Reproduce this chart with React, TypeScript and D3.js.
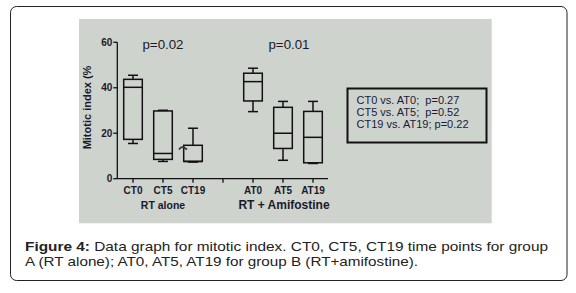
import React from "react";
import * as d3 from "d3";

const categories = ["CT0", "CT5", "CT19", "AT0", "AT5", "AT19"];
const positions = [0, 1, 2, 4, 5, 6];
const mins = [15.5, 7.6, 7.3, 29.5, 8.1, 6.7];
const q1s = [17.3, 8.5, 7.6, 34.2, 13.3, 7.0];
const medians = [40.2, 11.1, 7.6, 42.7, 20.0, 18.2];
const q3s = [43.7, 29.8, 14.7, 46.4, 31.4, 29.6];
const maxs = [45.5, 30.1, 22.2, 48.6, 34.0, 34.0];
const yTicks = [0, 20, 40, 60];
const groupLabels = ["RT alone", "RT + Amifostine"];
const groupCenters = [1, 5];
const pLabels = ["p=0.02", "p=0.01"];
const legendLines = ["CT0 vs. AT0;  p=0.27", "CT5 vs. AT5;  p=0.52", "CT19 vs. AT19; p=0.22"];

export default function App() {
  const y = d3.scaleLinear().domain([0, 60]).range([178.7, 42.3]);
  const x = d3.scaleLinear().domain([0, 6]).range([133, 313]);
  const axisX0 = 117.3;
  const axisX1 = 328;
  const hw = 9.3;
  const cw = 5;
  const ink = "#111";
  const font = "Arial, 'Liberation Sans', sans-serif";

  return (
    <svg width={576} height={293} style={{ position: "absolute", left: 0, top: 0, background: "#fff" }}>
      <rect x={10.5} y={6.5} width={556.5} height={274} rx={6} fill="#fff" stroke="#222" strokeWidth={1} />
      <rect x={79} y={19} width={412.7} height={204.3} fill="#ced3ce" />

      {/* y axis */}
      <line x1={axisX0} x2={axisX0} y1={y(60)} y2={y(0)} stroke={ink} strokeWidth={1.3} />
      {yTicks.map((t) => (
        <g key={t}>
          <line x1={axisX0 - 4} x2={axisX0} y1={y(t)} y2={y(t)} stroke={ink} strokeWidth={1.3} />
          <text x={axisX0 - 5} y={y(t)} dy="0.35em" textAnchor="end" fontFamily={font} fontWeight="bold" fontSize={10} fill="#1a1a2a">
            {t}
          </text>
        </g>
      ))}
      <text
        transform={`translate(91,107.5) rotate(-90)`}
        textAnchor="middle"
        fontFamily={font}
        fontWeight="bold"
        fontSize={11}
        fill="#1a1a2a"
      >
        Mitotic index (%
      </text>

      {/* x axis */}
      <line x1={axisX0} x2={axisX1} y1={y(0)} y2={y(0)} stroke={ink} strokeWidth={1.3} />
      {[...positions, 3].map((p) => (
        <line key={"t" + p} x1={x(p)} x2={x(p)} y1={y(0)} y2={y(0) + 4} stroke={ink} strokeWidth={1.3} />
      ))}
      {categories.map((c, i) => (
        <text key={c} x={x(positions[i])} y={193.5} textAnchor="middle" fontFamily={font} fontWeight="bold" fontSize={10} fill="#1a1a2a">
          {c}
        </text>
      ))}
      <text x={x(groupCenters[0])} y={209} textAnchor="middle" fontFamily={font} fontWeight="bold" fontSize={10.5} fill="#1a1a2a">
        {groupLabels[0]}
      </text>
      <text x={x(groupCenters[1]) + 1} y={209} textAnchor="middle" fontFamily={font} fontWeight="bold" fontSize={12} fill="#1a1a2a">
        {groupLabels[1]}
      </text>

      {/* p labels */}
      {pLabels.map((p, i) => (
        <text key={p} x={x(groupCenters[i]) + (i === 0 ? 0 : 6)} y={49} textAnchor="middle" fontFamily={font} fontSize={13.3} fill="#1a1a2a">
          {p}
        </text>
      ))}

      {/* boxes */}
      {categories.map((c, i) => {
        const cx = x(positions[i]);
        return (
          <g key={"b" + c} stroke={ink} strokeWidth={1.5} fill="none">
            <line x1={cx} x2={cx} y1={y(maxs[i])} y2={y(q3s[i])} />
            <line x1={cx} x2={cx} y1={y(q1s[i])} y2={y(mins[i])} />
            <line x1={cx - cw} x2={cx + cw} y1={y(maxs[i])} y2={y(maxs[i])} />
            <line x1={cx - cw} x2={cx + cw} y1={y(mins[i])} y2={y(mins[i])} />
            <rect x={cx - hw} y={y(q3s[i])} width={2 * hw} height={y(q1s[i]) - y(q3s[i])} />
            <line x1={cx - hw} x2={cx + hw} y1={y(medians[i])} y2={y(medians[i])} />
          </g>
        );
      })}
      {/* small stray mark near CT19 */}
      <path d="M179,149.5 Q181,146 184,147.5 L187,149.5" stroke="#333" strokeWidth={1.6} fill="none" />

      {/* legend */}
      <rect x={347.5} y={88.5} width={139} height={54} fill="none" stroke="#111" strokeWidth={2} />
      {legendLines.map((l, i) => (
        <text key={l} x={356.5} y={104 + i * 11.9} fontFamily={font} fontSize={11} fill="#1a1a3a" style={{ whiteSpace: "pre" }}>
          {l}
        </text>
      ))}

      {/* caption */}
      <text x={25} y={251} fontFamily={font} fontSize={13.5} fill="#222" textLength={523} lengthAdjust="spacingAndGlyphs">
        <tspan fontWeight="bold">Figure 4:</tspan>
        <tspan> Data graph for mitotic index. CT0, CT5, CT19 time points for group</tspan>
      </text>
      <text x={25} y={266} fontFamily={font} fontSize={13.5} fill="#222" textLength={393} lengthAdjust="spacingAndGlyphs">
        A (RT alone); AT0, AT5, AT19 for group B (RT+amifostine).
      </text>
    </svg>
  );
}
